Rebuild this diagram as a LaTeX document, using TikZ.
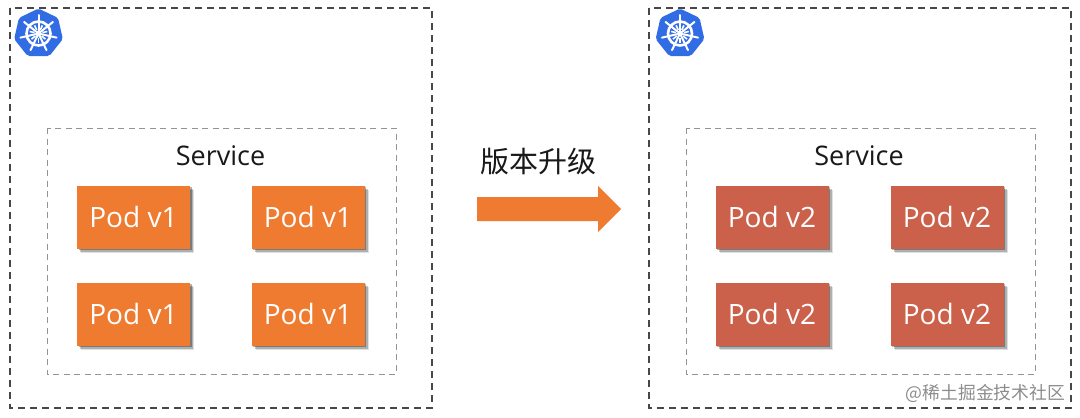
\documentclass[tikz,border=0pt]{standalone}
\usepackage{fontspec}
\setmainfont{Open Sans}
\newfontfamily\cjk{Noto Sans CJK SC}
\usetikzlibrary{shapes.geometric,shadows}
\definecolor{podone}{HTML}{EF7B30}
\definecolor{podtwo}{HTML}{CB614A}
\definecolor{k8s}{HTML}{326CE5}
\tikzset{
  outerbox/.style={draw=black!72,line width=1.3pt,dash pattern=on 7pt off 5pt},
  innerbox/.style={draw=black!42,line width=1pt,dash pattern=on 6pt off 4.5pt},
  podbase/.style={minimum width=113pt,minimum height=63pt,inner sep=0pt,text=white,
    font=\fontsize{28}{28}\selectfont,
    drop shadow={shadow xshift=4pt,shadow yshift=-4pt,fill=black,opacity=.12},
    drop shadow={shadow xshift=3pt,shadow yshift=-3pt,fill=black,opacity=.22},
    drop shadow={shadow xshift=1.5pt,shadow yshift=-1.5pt,fill=black,opacity=.30}},
  podv1/.style={podbase,fill=podone},
  podv2/.style={podbase,fill=podtwo},
  svc/.style={font=\fontsize{27}{27}\selectfont,text=black!90,inner sep=0pt},
  heading/.style={font=\cjk\fontsize{29}{29}\selectfont,text=black!90,inner sep=0pt},
  wmark/.style={font=\cjk\fontsize{17.8}{17.8}\selectfont,text=black!45,inner sep=0pt},
  hept/.style={regular polygon,regular polygon sides=7,minimum size=50pt,inner sep=0pt,fill=k8s,rounded corners=2pt},
  pics/helm/.style={code={
    \node[hept] (-logo) at (0,0) {};
    \draw[white,line width=2.6pt] (0,0) circle (12pt);
    \fill[white] (0,0) circle (3pt);
    \foreach \a in {90,141.4,192.9,244.3,295.7,347.1,38.6}
      \draw[white,line width=2pt,line cap=round] (\a:3pt) -- (\a:18.5pt);
    \foreach \a in {115.7,167.1,218.6,270,321.4,12.9,64.3}
      \draw[white,line width=1.6pt] (\a:4pt) -- (\a:9pt);
  }}
}
\begin{document}
\begin{tikzpicture}[x=1pt,y=-1pt]
\useasboundingbox (0,0) rectangle (1080,418);
\draw[outerbox] (10,8) rectangle (432,408);
\draw[outerbox] (649,8) rectangle (1071,408);
\pic (la) at (38.5,33.5) {helm};
\pic (lb) at (680,33.5) {helm};
\draw[innerbox] (47,128) rectangle (396,374);
\draw[innerbox] (686,128) rectangle (1035,374);
\node[svc] (s1) at (220.5,156) {Service};
\node[svc] (s2) at (859,156) {Service};
\node[podv1] (a1) at (133.5,217) {Pod v1};
\node[podv1] (a2) at (308,217) {Pod v1};
\node[podv1] (a3) at (133.5,314) {Pod v1};
\node[podv1] (a4) at (308,314) {Pod v1};
\node[podv2] (b1) at (772,217) {Pod v2};
\node[podv2] (b2) at (947,217) {Pod v2};
\node[podv2] (b3) at (772,314) {Pod v2};
\node[podv2] (b4) at (947,314) {Pod v2};
\node[heading] (h) at (538,162) {版本升级};
\fill[podone] (477,197) -- (598,197) -- (598,186) -- (621,209) -- (598,232) -- (598,221) -- (477,221) -- cycle;
\node[wmark] (w) at (985.5,393) {@稀土掘金技术社区};
\end{tikzpicture}
\end{document}
